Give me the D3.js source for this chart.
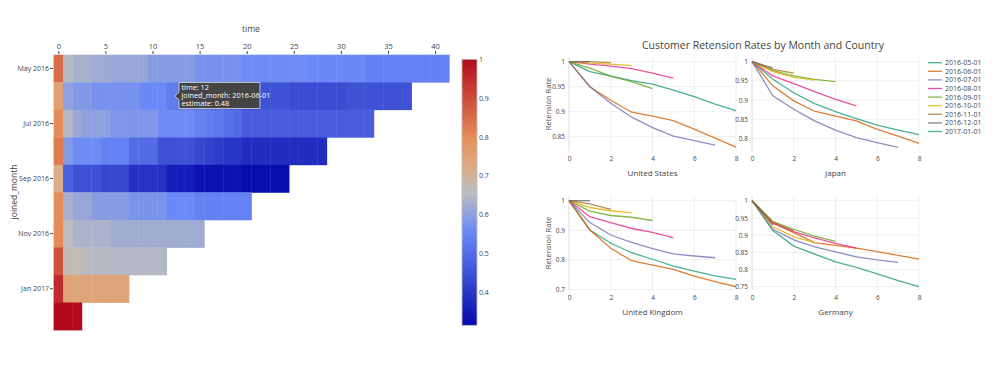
<!DOCTYPE html>
<html>
<head>
<meta charset="utf-8">
<script src="https://cdn.jsdelivr.net/npm/d3@7"></script>
<style>
  body { margin: 0; background: #fff; }
  text { font-family: "Open Sans", sans-serif; fill: #444; }
</style>
</head>
<body>
<svg id="chart" width="1000" height="377"></svg>
<script>
// Cohort heatmap data (estimate per joined month, time = 0..n)
const joinedMonths = ["2016-05-01", "2016-06-01", "2016-07-01", "2016-08-01", "2016-09-01",
                      "2016-10-01", "2016-11-01", "2016-12-01", "2017-01-01", "2017-02-01"];
const monthTicks = ["2016-05-01", "2016-07-01", "2016-09-01", "2016-11-01", "2017-01-01"];
const monthTickLabels = ["May 2016", "Jul 2016", "Sep 2016", "Nov 2016", "Jan 2017"];
const timeTicks = [0, 5, 10, 15, 20, 25, 30, 35, 40];
const colorTicks = [0.4, 0.5, 0.6, 0.7, 0.8, 0.9, 1];

const estMay = [0.85,0.65,0.63,0.63,0.62,0.62,0.61,0.61,0.61,0.61,0.59,0.59,0.59,0.59,0.59,
  0.57,0.57,0.57,0.57,0.57,0.56,0.56,0.56,0.56,0.56,0.56,0.56,0.555,0.555,0.555,0.555,0.555,0.555,
  0.54,0.54,0.54,0.54,0.54,0.54,0.54,0.54,0.54];
const estJun = [0.75,0.60,0.585,0.585,0.57,0.57,0.57,0.57,0.57,0.555,0.555,0.555,
  0.53,0.52,0.51,0.50,0.49,0.48,0.47,0.46,0.45,0.45,0.45,0.45,0.45,
  0.44,0.44,0.44,0.44,0.44,0.44,0.45,0.45,0.45,0.45,0.45,0.45,0.45];
const estJul = [0.80,0.645,0.615,0.60,0.60,0.60,0.58,0.58,0.58,0.58,0.58,0.56,0.56,0.56,0.56,
  0.54,0.53,0.52,0.51,0.50,0.47,0.47,0.47,0.47,0.47,0.47,0.47,0.47,0.47,0.47,0.47,0.47,0.47,0.47];
const estAug = [0.83,0.59,0.56,0.56,0.56,0.54,0.54,0.54,0.50,0.50,0.50,0.45,0.45,0.45,0.45,
  0.43,0.42,0.41,0.40,0.40,0.38,0.38,0.38,0.38,0.38,0.38,0.38,0.38,0.38];
const estSep = [0.72,0.48,0.45,0.45,0.45,0.43,0.43,0.43,0.39,0.39,0.39,0.39,0.35,0.35,0.35,
  0.33,0.33,0.33,0.33,0.33,0.32,0.32,0.32,0.32,0.32];
const estOct = [0.80,0.63,0.61,0.61,0.59,0.59,0.59,0.59,0.575,0.575,0.575,0.575,0.555,0.555,0.555,
  0.54,0.54,0.54,0.54,0.54,0.54];
const estNov = [0.80,0.66,0.635,0.635,0.635,0.635,0.62,0.62,0.62,0.62,0.62,0.62,0.62,0.62,0.62,0.62];
const estDec = [0.89,0.67,0.67,0.65,0.65,0.65,0.645,0.645,0.645,0.645,0.645,0.645];
const estJan = [0.95,0.75,0.74,0.74,0.74,0.74,0.74,0.74];
const estFeb = [1.0,1.0,1.0];
const estimates = [estMay, estJun, estJul, estAug, estSep, estOct, estNov, estDec, estJan, estFeb];

// Retention lines per country, one array per cohort (index = month since joining)
const cohorts = ["2016-05-01", "2016-06-01", "2016-07-01", "2016-08-01", "2016-09-01",
                 "2016-10-01", "2016-11-01", "2016-12-01", "2017-01-01"];
const usRates = [
  [1, 0.98, 0.971, 0.962, 0.955, 0.943, 0.93, 0.915, 0.902],
  [1, 0.95, 0.923, 0.899, 0.891, 0.882, 0.865, 0.847, 0.829],
  [1, 0.95, 0.917, 0.889, 0.868, 0.851, 0.842, 0.833],
  [1, 0.995, 0.991, 0.986, 0.977, 0.967],
  [1, 0.987, 0.971, 0.96, 0.946],
  [1, 0.997, 0.995, 0.992],
  [1, 1.0, 0.998],
  [1, 1.0],
  [1]
];
const japanRates = [
  [1, 0.954, 0.919, 0.891, 0.870, 0.852, 0.835, 0.822, 0.810],
  [1, 0.937, 0.898, 0.871, 0.858, 0.846, 0.824, 0.806, 0.787],
  [1, 0.911, 0.876, 0.846, 0.822, 0.802, 0.789, 0.777],
  [1, 0.963, 0.943, 0.922, 0.902, 0.885],
  [1, 0.977, 0.963, 0.954, 0.948],
  [1, 0.974, 0.959, 0.952],
  [1, 0.98, 0.970],
  [1, 0.984],
  [1]
];
const ukRates = [
  [1, 0.901, 0.856, 0.824, 0.802, 0.779, 0.762, 0.746, 0.734],
  [1, 0.901, 0.839, 0.797, 0.782, 0.768, 0.745, 0.726, 0.709],
  [1, 0.926, 0.884, 0.859, 0.838, 0.820, 0.813, 0.807],
  [1, 0.946, 0.926, 0.906, 0.893, 0.875],
  [1, 0.965, 0.950, 0.944, 0.933],
  [1, 0.977, 0.966, 0.959],
  [1, 0.989, 0.971],
  [1, 1.0],
  [1]
];
const germanyRates = [
  [1, 0.913, 0.868, 0.845, 0.822, 0.806, 0.787, 0.768, 0.750],
  [1, 0.936, 0.907, 0.878, 0.870, 0.862, 0.852, 0.841, 0.830],
  [1, 0.917, 0.886, 0.866, 0.851, 0.837, 0.828, 0.821],
  [1, 0.934, 0.910, 0.892, 0.876, 0.862],
  [1, 0.939, 0.917, 0.897, 0.882],
  [1, 0.924, 0.895, 0.878],
  [1, 0.938, 0.913],
  [1, 0.929],
  [1]
];

const svg = d3.select("#chart");

// ---------- Heatmap ----------
const zMin = 0.314, zMax = 1;
const rdbuStops = [0, 0.35, 0.5, 0.6, 0.7, 1];
const rdbuColors = ["rgb(5,10,172)", "rgb(106,137,247)", "rgb(190,190,190)",
                    "rgb(220,170,132)", "rgb(230,145,90)", "rgb(178,10,28)"];
const colorScale = d3.scaleLinear()
    .domain(rdbuStops.map(t => zMin + t * (zMax - zMin)))
    .range(rdbuColors)
    .clamp(true);

const xHeat = d3.scaleLinear().domain([-0.5, 41.5]).range([53.6, 449.2]);
const yHeat = d3.scaleBand().domain(joinedMonths).range([54.7, 330]);

const heat = svg.append("g");
estimates.forEach((row, i) => {
    heat.selectAll(null)
        .data(row)
        .enter()
        .append("rect")
        .attr("x", (d, t) => xHeat(t - 0.5))
        .attr("y", yHeat(joinedMonths[i]))
        .attr("width", (d, t) => xHeat(t + 0.5) - xHeat(t - 0.5) + 0.4)
        .attr("height", yHeat.bandwidth() + 0.4)
        .attr("fill", d => colorScale(d));
});

// top time axis
const xAxisHeat = svg.append("g")
    .attr("transform", "translate(0,54)")
    .call(d3.axisTop(xHeat).tickValues(timeTicks).tickSize(3).tickPadding(2));
xAxisHeat.select(".domain").remove();
xAxisHeat.selectAll("line").attr("stroke", "#444");
xAxisHeat.selectAll("text").style("font-size", "7.5px").attr("fill", "#444");

svg.append("text").attr("x", 251).attr("y", 32).attr("text-anchor", "middle")
    .style("font-size", "8.5px").text("time");

// left month axis
const yAxisHeat = svg.append("g")
    .attr("transform", "translate(53,0)")
    .call(d3.axisLeft(yHeat).tickValues(monthTicks)
        .tickFormat(d => monthTickLabels[monthTicks.indexOf(d)])
        .tickSize(3).tickPadding(1));
yAxisHeat.select(".domain").remove();
yAxisHeat.selectAll("line").attr("stroke", "#444");
yAxisHeat.selectAll("text").style("font-size", "7px").attr("fill", "#444");

svg.append("text")
    .attr("transform", "translate(17,192) rotate(-90)")
    .attr("text-anchor", "middle")
    .style("font-size", "8.5px")
    .text("joined_month");

// colorbar
const cbY = d3.scaleLinear().domain([zMin, zMax]).range([325.3, 59.3]);
const grad = svg.append("defs").append("linearGradient")
    .attr("id", "cbGrad").attr("x1", 0).attr("y1", 1).attr("x2", 0).attr("y2", 0);
grad.selectAll("stop")
    .data(rdbuStops)
    .enter()
    .append("stop")
    .attr("offset", d => d)
    .attr("stop-color", (d, i) => rdbuColors[i]);
svg.append("rect")
    .attr("x", 462).attr("y", cbY(zMax))
    .attr("width", 15).attr("height", cbY(zMin) - cbY(zMax))
    .attr("fill", "url(#cbGrad)")
    .attr("stroke", "#bbb").attr("stroke-width", 0.8);
const cbAxis = svg.append("g")
    .attr("transform", "translate(477,0)")
    .call(d3.axisRight(cbY).tickValues(colorTicks).tickSize(0).tickPadding(2).tickFormat(d3.format("~g")));
cbAxis.select(".domain").remove();
cbAxis.selectAll("text").style("font-size", "7px").attr("fill", "#444");

// hover label at time 12 / 2016-06-01
const tipX = xHeat(12) + 3.6;
const tipY = yHeat("2016-06-01") + yHeat.bandwidth() / 2;
const tip = svg.append("g").attr("transform", `translate(${tipX},${tipY})`);
tip.append("path")
    .attr("d", "M0,0 L4,-4 L4,-13.5 L85,-13.5 L85,12.5 L4,12.5 L4,4 Z")
    .attr("fill", "rgb(68,68,68)")
    .attr("stroke", "#ddd").attr("stroke-width", 0.8);
["time: 12", "joined_month: 2016-06-01", "estimate: 0.48"].forEach((s, i) => {
    tip.append("text")
        .attr("x", 6.5).attr("y", -6.3 + i * 8.3)
        .style("font-size", "7.3px").style("fill", "#fff")
        .text(s);
});

// ---------- Retention line panels ----------
const panels = [
    { name: "United States", rates: usRates, x0: 569, x1: 736, y0: 57, y1: 151, lo: 0.8214, hi: 1.0094,
      ticks: [0.85, 0.9, 0.95, 1], yTitle: true },
    { name: "Japan", rates: japanRates, x0: 752, x1: 919, y0: 57, y1: 151, lo: 0.7674, hi: 1.0122,
      ticks: [0.8, 0.85, 0.9, 0.95, 1], yTitle: false },
    { name: "United Kingdom", rates: ukRates, x0: 569, x1: 736, y0: 196, y1: 290, lo: 0.698, hi: 1.0159,
      ticks: [0.7, 0.8, 0.9, 1], yTitle: true },
    { name: "Germany", rates: germanyRates, x0: 752, x1: 919, y0: 196, y1: 290, lo: 0.7404, hi: 1.0137,
      ticks: [0.75, 0.8, 0.85, 0.9, 0.95, 1], yTitle: false }
];
const monthTicksX = [0, 2, 4, 6, 8];
const lineColor = i => d3.schemeDark2[i % 8];

panels.forEach(p => {
    const xs = d3.scaleLinear().domain([0, 8]).range([p.x0, p.x1]);
    const ys = d3.scaleLinear().domain([p.lo, p.hi]).range([p.y1, p.y0]);
    const g = svg.append("g");

    g.selectAll(".vgrid").data(monthTicksX).enter().append("line")
        .attr("x1", d => xs(d)).attr("x2", d => xs(d))
        .attr("y1", p.y0).attr("y2", p.y1)
        .attr("stroke", d => d === 0 ? "#ddd" : "#eee").attr("stroke-width", 1);
    g.selectAll(".hgrid").data(p.ticks).enter().append("line")
        .attr("x1", p.x0).attr("x2", p.x1)
        .attr("y1", d => ys(d)).attr("y2", d => ys(d))
        .attr("stroke", "#eee").attr("stroke-width", 1);

    const xa = g.append("g").attr("transform", `translate(0,${p.y1})`)
        .call(d3.axisBottom(xs).tickValues(monthTicksX).tickSize(0).tickPadding(5));
    xa.select(".domain").remove();
    xa.selectAll("text").style("font-size", "6.5px").attr("fill", "#444");

    const ya = g.append("g").attr("transform", `translate(${p.x0},0)`)
        .call(d3.axisLeft(ys).tickValues(p.ticks).tickSize(0).tickPadding(4).tickFormat(d3.format("~g")));
    ya.select(".domain").remove();
    ya.selectAll("text").style("font-size", "6.5px").attr("fill", "#444");

    const line = d3.line().x((d, i) => xs(i)).y(d => ys(d));
    g.selectAll(".cohort").data(p.rates).enter().append("path")
        .attr("d", d => d.length > 1 ? line(d) : null)
        .attr("fill", "none")
        .attr("stroke", (d, i) => lineColor(i))
        .attr("stroke-width", 1.3)
        .attr("stroke-opacity", 0.8);

    g.append("text").attr("x", (p.x0 + p.x1) / 2).attr("y", p.y1 + 25)
        .attr("text-anchor", "middle").style("font-size", "8px").text(p.name);

    if (p.yTitle) {
        g.append("text")
            .attr("transform", `translate(${p.x0 - 18},${(p.y0 + p.y1) / 2}) rotate(-90)`)
            .attr("text-anchor", "middle").style("font-size", "7.5px").text("Retension Rate");
    }
});

svg.append("text").attr("x", 763).attr("y", 48.5).attr("text-anchor", "middle")
    .style("font-size", "10.5px").text("Customer Retension Rates by Month and Country");

// legend
const legend = svg.append("g").attr("transform", "translate(928,62.7)");
const leg = legend.selectAll("g").data(cohorts).enter().append("g")
    .attr("transform", (d, i) => `translate(0,${i * 8.6})`);
leg.append("line").attr("x1", 0).attr("x2", 14).attr("y1", 0).attr("y2", 0)
    .attr("stroke", (d, i) => lineColor(i)).attr("stroke-width", 1.3).attr("stroke-opacity", 0.8);
leg.append("text").attr("x", 17).attr("y", 2.4).style("font-size", "7px").text(d => d);
</script>
</body>
</html>
